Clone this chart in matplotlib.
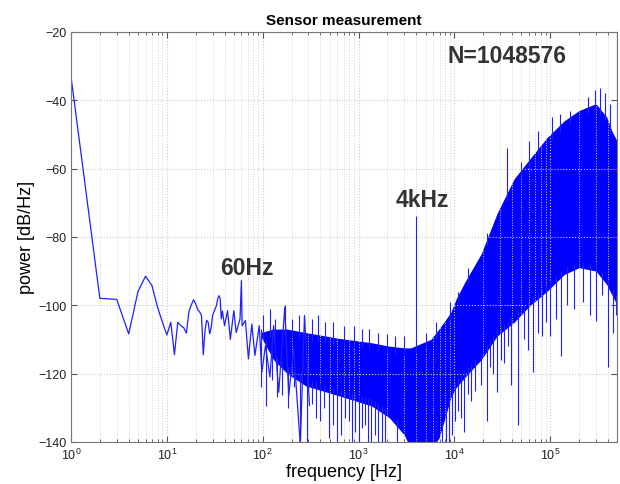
import numpy as np
import matplotlib.pyplot as plt

# low-frequency part of the spectrum (individual bins, 1 Hz apart)
low_f = [1, 2, 3, 4, 5, 6, 7, 8, 9, 10, 11, 12, 13, 14, 15, 16, 17, 18, 19, 20,
         21, 22, 23, 24, 25, 26, 27, 28, 29, 30, 31, 32, 33, 34, 35, 36, 37, 38,
         40, 43, 46, 50, 53, 58, 60, 61, 66, 71, 77, 83, 92, 98, 107, 119, 130,
         147, 170, 187, 210, 247, 273, 308]
low_p = [-33, -98, -98.3, -108.4, -96, -91.5, -94.3, -100.6, -105, -108.7,
         -105, -114.5, -105, -106, -106.6, -108.2, -101.9, -99.9, -98.4, -99.6,
         -101.3, -102, -103, -114.5, -107.6, -104.4, -105, -108.4, -106.6, -103,
         -102, -101, -100, -98, -97.2, -98, -104, -101.7,
         -106, -101.6, -110, -101.6, -108, -104, -92.8, -106, -104.5, -115.7,
         -105.5, -114.7, -106, -119.6, -111.8, -121, -106, -125.5, -100.6,
         -126.5, -112.8, -141, -103, -129.4]

# dense part: upper / lower edge of the solid noise band
band_f = [95, 130, 180, 280, 620, 1370, 2100, 3000, 3500, 5700, 6900, 8000,
          9200, 10500, 13000, 19000, 28000, 42000, 62000, 92000, 140000,
          200000, 300000, 390000, 440000, 500000]
band_hi = [-108, -107, -107, -108, -109.7, -111, -112, -112.5, -112.5, -110,
           -107, -104.5, -102, -98, -93, -85, -73, -63, -57, -51, -46, -43,
           -41, -45, -49, -52]
band_lo = [-109, -116, -120, -123.6, -126.5, -129.5, -133, -138, -142, -142,
           -139, -133, -127, -124, -121, -116, -109, -105, -100, -96, -91,
           -89, -90, -94, -97, -100]

# single bins dipping below the band
dip_f = [95, 109, 125, 140, 158, 185, 210, 245, 287, 330, 360, 400, 440, 490,
         540, 600, 660, 720, 790, 850, 920, 1000, 1100, 1170, 1260, 1360, 1480,
         1600, 1750, 1900, 2500, 7500, 8200, 8800, 9500, 10200, 11000, 11800,
         12700, 14000, 15000, 16500, 19000, 21700, 23500, 25000, 28000, 30500,
         33000, 36000, 39000, 46000, 53000, 58000, 66000, 75000, 82000, 90000,
         100000, 115000, 130000, 150000, 176000, 220000, 260000, 300000,
         350000, 400000, 450000, 480000]
dip_p = [-124, -129.4, -122, -127, -126.4, -130, -124, -141, -141, -129, -133,
         -134, -130, -139, -135, -141, -138, -133, -134, -141, -137, -141,
         -136, -135, -141, -141, -138, -141, -141, -141, -141, -141, -141,
         -141, -138, -134, -131, -133, -137, -126, -128, -125, -123.5, -134,
         -118, -120, -125.4, -116, -117, -112, -123.5, -135, -110, -113,
         -119.5, -108, -109, -105, -109, -104, -115, -100, -101, -99, -103,
         -104.5, -97, -118, -108, -103]

# single bins rising above the band
peak_f = [100, 120, 135, 170, 200, 240, 330, 380, 450, 540, 700, 900, 1100,
          1300, 1600, 2000, 2400, 3000, 4000, 5000, 6500, 9000, 11000, 14000,
          22000, 35000, 50000, 60000, 75000, 105000, 125000, 160000, 250000,
          290000, 330000, 370000, 420000, 500000]
peak_p = [-103, -101, -104, -100, -104, -103, -104, -103, -105, -105, -106,
          -106, -107, -107, -108, -108.5, -109, -109, -74, -108, -105, -99,
          -96, -89, -79, -54, -58, -52, -49, -45, -44, -43, -39, -37, -36.5,
          -38, -41, -10]

blue = '#2020ff'

plt.rcParams['font.family'] = ['Liberation Sans', 'DejaVu Sans']
plt.rcParams['mathtext.fontset'] = 'custom'
plt.rcParams['mathtext.rm'] = 'Liberation Sans'

fig = plt.figure(figsize=(6.2, 4.85), dpi=100)
ax = fig.add_axes([0.1145, 0.087, 0.881, 0.845])

ax.plot(low_f, low_p, color=blue, lw=0.9)
ax.fill_between(band_f, band_lo, band_hi, color='#0000ff', lw=0)
lf = np.log10(band_f)
ax.vlines(dip_f, dip_p, np.interp(np.log10(dip_f), lf, band_lo) + 2,
          color=blue, lw=0.8)
ax.vlines(peak_f, np.interp(np.log10(peak_f), lf, band_hi) - 2, peak_p,
          color=blue, lw=0.8)

ax.set_xscale('log')
ax.set_xlim(1, 5e5)
ax.set_ylim(-140, -20)
ax.set_yticks(np.arange(-140, -19, 20))
ax.grid(True, which='major', color='#cccccc', ls=':', lw=0.8)
ax.grid(True, which='minor', axis='x', color='#d4d4d4', ls=':', lw=0.7)
ax.tick_params(which='both', direction='in', top=True, right=True,
               labelsize=9, colors='#555555', labelcolor='#222222')
ax.tick_params(which='major', length=4)
ax.tick_params(which='minor', length=2.5)
for s in ax.spines.values():
    s.set_color('#777777')

ax.set_xlabel('frequency [Hz]', fontsize=13, labelpad=1)
ax.set_ylabel('power [dB/Hz]', fontsize=13, labelpad=2)
ax.set_title('Sensor measurement', fontsize=11, fontweight='bold', pad=6)

txt = dict(fontsize=16.5, fontweight='bold', color='#333333', ha='center', va='center')
ax.text(68, -89, '60Hz', **txt)
ax.text(4600, -69, '4kHz', **txt)
ax.text(35000, -27, 'N=1048576', **txt)

fig.savefig('out.png', dpi=100)
